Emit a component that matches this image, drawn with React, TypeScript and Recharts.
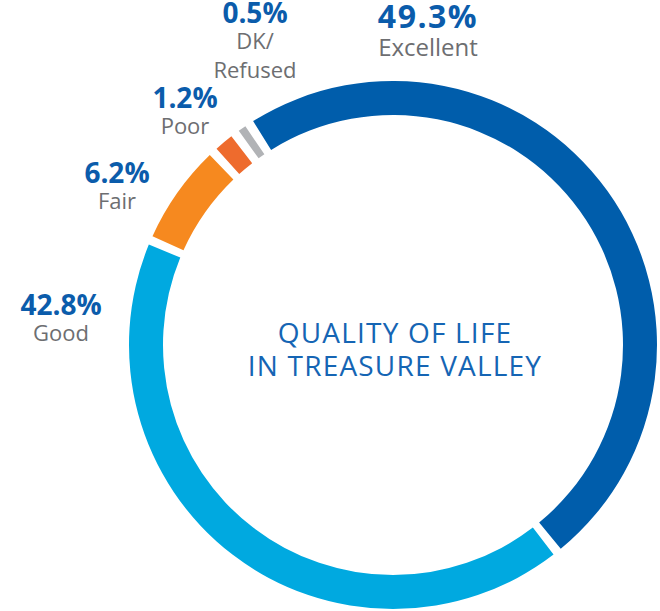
import { PieChart, Pie, Cell } from "recharts";

const CATEGORIES = ["Excellent", "Good", "Fair", "Poor", "DK/Refused"];
const SHARES = [49.3, 42.8, 6.2, 1.2, 0.5];
const LABEL_LINES: string[][] = [["Excellent"], ["Good"], ["Fair"], ["Poor"], ["DK/", "Refused"]];
const TITLE_LINES = ["QUALITY OF LIFE", "IN TREASURE VALLEY"];

const COLORS = ["#005dab", "#00a9e0", "#f6891f", "#ee6b2d", "#b1b3b6"];
const BLUE_TEXT = "#0b5cab";
const GRAY_TEXT = "#6d6e71";
const FONT = "'Open Sans', sans-serif";

// labels sit around the ring by hand in the original, so they are placed by hand here too
const LABEL_POS = [
  { x: 428, y: 28, big: true },
  { x: 61, y: 315 },
  { x: 117, y: 183 },
  { x: 185, y: 108 },
  { x: 255, y: 23 },
];

const data = CATEGORIES.map((name, i) => ({ name, value: SHARES[i] }));

function renderLabel(props: any) {
  const i = props.index ?? CATEGORIES.indexOf(props.name);
  const pos = LABEL_POS[i];
  const numSize = pos.big ? 32 : 28;
  const nameSize = pos.big ? 24 : 22;
  return (
    <g>
      <text x={pos.x} y={pos.y} textAnchor="middle" fill={BLUE_TEXT} fontFamily={FONT} fontWeight={700} fontSize={numSize} letterSpacing={pos.big ? 1.5 : 0}>
        {SHARES[i].toFixed(1)}%
      </text>
      {LABEL_LINES[i].map((line, j) => (
        <text key={line} x={pos.x} y={pos.y + (pos.big ? 28 : 26) + j * 29} textAnchor="middle" fill={GRAY_TEXT} fontFamily={FONT} fontWeight={400} fontSize={nameSize}>
          {line}
        </text>
      ))}
      {i === 0 &&
        TITLE_LINES.map((line, j) => (
          <text key={line} x={props.cx + 2} y={props.cy - 2 + j * 33} textAnchor="middle" fill="#1565b4" fontFamily={FONT} fontWeight={400} fontSize={28} letterSpacing={1.2}>
            {line}
          </text>
        ))}
    </g>
  );
}

export default function App() {
  return (
    <div style={{ position: "absolute", left: 0, top: 0, background: "#fff" }}>
      <PieChart width={660} height={611} margin={{ top: 0, right: 0, bottom: 0, left: 0 }}>
        <Pie
          data={data}
          dataKey="value"
          nameKey="name"
          cx={393}
          cy={345}
          innerRadius={230}
          outerRadius={264}
          startAngle={122}
          endAngle={-238}
          paddingAngle={2}
          stroke="none"
          label={renderLabel}
          labelLine={false}
          isAnimationActive={false}
        >
          {data.map((entry, index) => (
            <Cell key={entry.name} fill={COLORS[index]} />
          ))}
        </Pie>
      </PieChart>
    </div>
  );
}
